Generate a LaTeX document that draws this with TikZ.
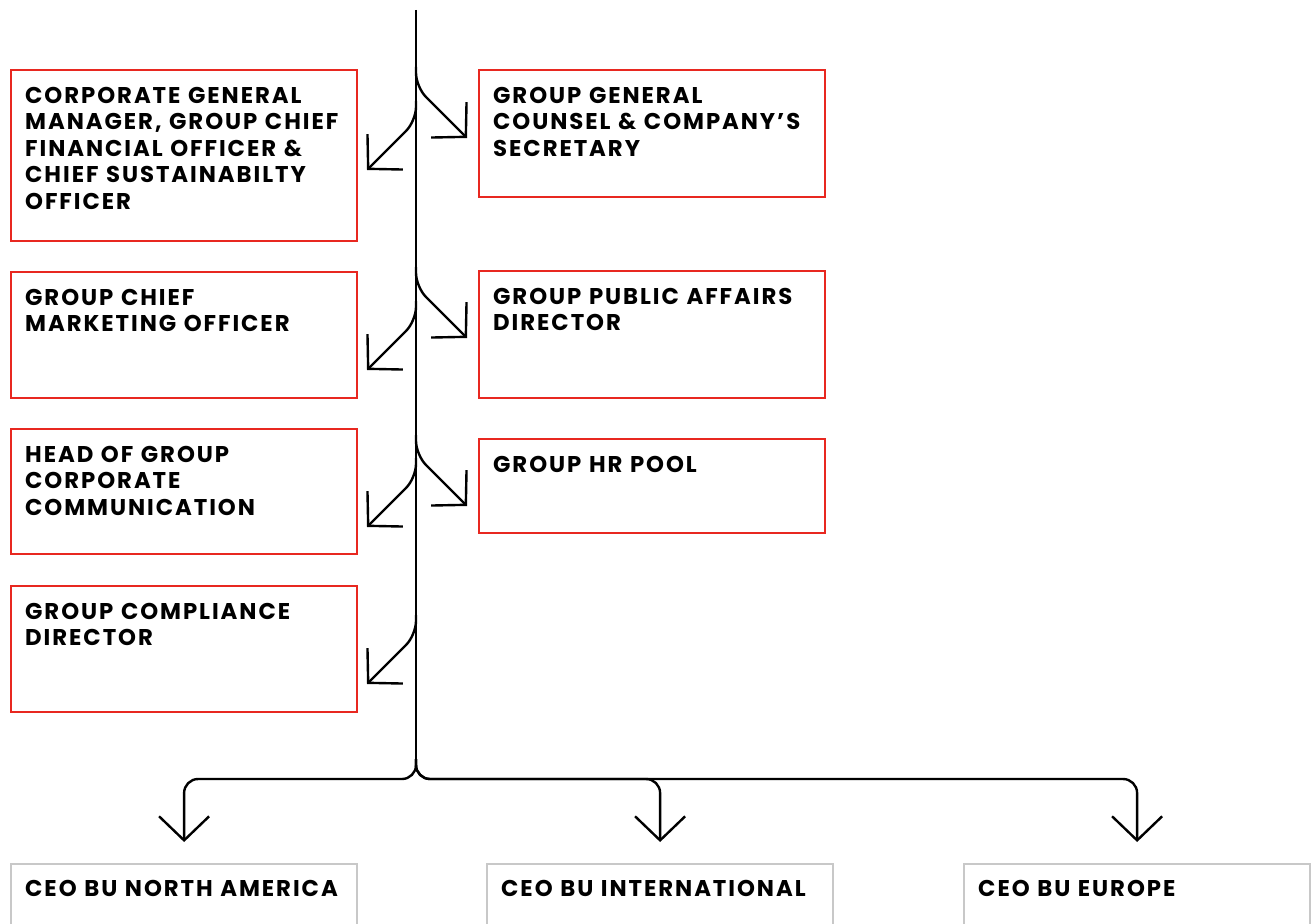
\documentclass[tikz,border=0pt]{standalone}
\usepackage{fontspec}
\newfontfamily\orgfont{Poppins}[LetterSpace=8.5]
\usetikzlibrary{arrows.meta}

\definecolor{boxred}{RGB}{232,40,32}
\definecolor{boxgrey}{RGB}{200,200,200}

\tikzset{
  redbox/.style={draw=boxred, line width=2.2pt, anchor=north west, inner sep=0pt, minimum width=346pt},
  greybox/.style={draw=boxgrey, line width=2.2pt, anchor=north west, inner sep=0pt, minimum width=346pt, minimum height=130pt},
  boxtext/.style={anchor=north west, inner xsep=15pt, inner ysep=18pt, align=left, text width=340pt,
    font=\orgfont\bfseries\fontsize{22.8}{26.5}\selectfont},
  orgline/.style={line width=2.4pt, rounded corners=14pt, -{Straight Barb[length=24pt,width=50pt]}}
}

\begin{document}
\begin{tikzpicture}[x=1pt, y=-1pt]
  \clip (0,0) rectangle (1313,923);

  % left column
  \node[redbox, minimum height=171pt] (cfo) at (10,69) {};
  \node[boxtext] (cfotext) at (cfo.north west) {CORPORATE GENERAL\\MANAGER, GROUP CHIEF\\FINANCIAL OFFICER \&\\CHIEF SUSTAINABILTY\\OFFICER};
  \node[redbox, minimum height=126pt] (cmo) at (10,271) {};
  \node[boxtext] (cmotext) at (cmo.north west) {GROUP CHIEF\\MARKETING OFFICER};
  \node[redbox, minimum height=125pt] (comm) at (10,428) {};
  \node[boxtext] (commtext) at (comm.north west) {HEAD OF GROUP\\CORPORATE\\COMMUNICATION};
  \node[redbox, minimum height=126pt] (compl) at (10,585) {};
  \node[boxtext] (compltext) at (compl.north west) {GROUP COMPLIANCE\\DIRECTOR};

  % right column
  \node[redbox, minimum height=127pt] (counsel) at (478,69) {};
  \node[boxtext] (counseltext) at (counsel.north west) {GROUP GENERAL\\COUNSEL \& COMPANY’S\\SECRETARY};
  \node[redbox, minimum height=127pt] (pa) at (478,270) {};
  \node[boxtext] (patext) at (pa.north west) {GROUP PUBLIC AFFAIRS\\DIRECTOR};
  \node[redbox, minimum height=94pt] (hr) at (478,438) {};
  \node[boxtext] (hrtext) at (hr.north west) {GROUP HR POOL};

  % business units
  \node[greybox] (na) at (10,863) {};
  \node[boxtext, inner ysep=17pt] (natext) at (na.north west) {CEO BU NORTH AMERICA};
  \node[greybox] (intl) at (486,863) {};
  \node[boxtext, inner ysep=17pt] (intltext) at (intl.north west) {CEO BU INTERNATIONAL};
  \node[greybox] (eu) at (963,863) {};
  \node[boxtext, inner ysep=17pt] (eutext) at (eu.north west) {CEO BU EUROPE};

  % trunk
  \coordinate (top) at (416,10);
  \coordinate (split) at (416,779);
  \draw[line width=2.4pt] (top) -- (416,765);

  \foreach \y in {87,287,455}
    \draw[orgline] (416,\y-20) -- (416,\y) -- ++(51,51);
  \foreach \y in {121,321,478,635}
    \draw[orgline] (416,\y-20) -- (416,\y) -- ++(-49,49);

  \foreach \bu in {na,intl,eu}
    \draw[orgline] ([yshift=20pt]split) -- (split) -| ([yshift=21pt]\bu.north);
\end{tikzpicture}
\end{document}
